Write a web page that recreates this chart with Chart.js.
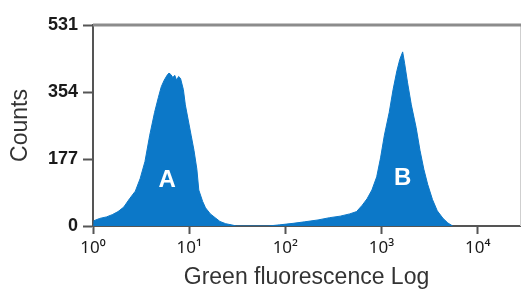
<!DOCTYPE html>
<html>
<head>
<meta charset="utf-8">
<script src="https://cdn.jsdelivr.net/npm/chart.js@4"></script>
<style>
  html,body{margin:0;padding:0;background:#fff;}
  #wrap{width:522px;height:291px;}
</style>
</head>
<body>
<div id="wrap"><canvas id="hist" width="522" height="291"></canvas></div>
<script>
// histogram: x = log10(green fluorescence), y = counts
const logFluor = [
  0.00, 0.01, 0.07, 0.14, 0.20, 0.26, 0.32, 0.38, 0.44, 0.49, 0.54, 0.59, 0.64,
  0.68, 0.71, 0.74, 0.77, 0.79, 0.81, 0.83, 0.85, 0.87, 0.89, 0.91, 0.94, 0.96,
  0.99, 1.02, 1.05, 1.08, 1.10, 1.14, 1.17, 1.22, 1.27, 1.32, 1.38, 1.44, 1.49,
  1.82, 1.94, 2.08, 2.20, 2.34, 2.46, 2.57, 2.67, 2.74, 2.80, 2.85, 2.90, 2.95,
  2.99, 3.03, 3.08, 3.12, 3.16, 3.19, 3.22, 3.24, 3.27, 3.31, 3.36, 3.40, 3.44,
  3.48, 3.53, 3.58, 3.64, 3.69, 3.74
];
const counts = [
  0, 14, 20, 24, 30, 38, 50, 72, 92, 125, 170, 240, 300,
  340, 368, 385, 398, 404, 400, 392, 398, 385, 395, 390, 360, 320,
  280, 240, 200, 150, 95, 65, 48, 32, 22, 12, 6, 3, 0,
  0, 3, 7, 11, 16, 22, 26, 32, 38, 55, 72, 95, 130,
  180, 240, 300, 360, 410, 440, 460, 430, 380, 320, 260, 200, 150,
  110, 70, 40, 20, 8, 0
];
const yTicks = [0, 177, 354, 531];
const xTicks = [0, 1, 2, 3, 4];
const xTickLabels = ['10⁰', '10¹', '10²', '10³', '10⁴'];
const peakNames = ['A', 'B'];
const peakAt = [[0.77, 121], [3.22, 126]];

const blue = '#0c78c8';
const axisGrey = '#555';
const sans = '"Liberation Sans", Arial, sans-serif';

const framePlugin = {
  id: 'frame',
  afterDatasetsDraw(chart){
    const {ctx, scales} = chart;
    ctx.save();
    ctx.fillStyle = '#fff';
    ctx.font = 'bold 24px ' + sans;
    ctx.textAlign = 'center';
    ctx.textBaseline = 'middle';
    peakNames.forEach((t,i)=>{
      ctx.fillText(t, scales.x.getPixelForValue(peakAt[i][0]), scales.y.getPixelForValue(peakAt[i][1]));
    });
    ctx.restore();
  },
  afterDraw(chart){
    const {ctx, chartArea:a} = chart;
    ctx.save();
    ctx.strokeStyle = '#cfcfcf';
    ctx.lineWidth = 1;
    ctx.beginPath(); ctx.moveTo(a.right+0.5, a.top); ctx.lineTo(a.right+0.5, a.bottom); ctx.stroke();
    ctx.strokeStyle = '#8c8c8c';
    ctx.lineWidth = 3;
    ctx.beginPath(); ctx.moveTo(a.left, a.top); ctx.lineTo(a.right+1, a.top); ctx.stroke();
    ctx.restore();
  }
};

new Chart(document.getElementById('hist'), {
  type: 'line',
  data: {
    datasets: [{
      label: 'Counts',
      data: logFluor.map((v,i)=>({x:v, y:counts[i]})),
      fill: 'origin',
      backgroundColor: blue,
      borderColor: blue,
      borderWidth: 1,
      pointRadius: 0,
      tension: 0
    }]
  },
  options: {
    responsive: false,
    animation: false,
    layout: { padding: { top: 25, right: 2, left: 0, bottom: 0 } },
    plugins: { legend: { display: false }, tooltip: { enabled: false } },
    scales: {
      x: {
        type: 'linear',
        min: 0, max: 4.44,
        afterBuildTicks: s => { s.ticks = xTicks.map(v=>({value:v})); },
        afterFit: s => { s.height = 65; },
        grid: { drawOnChartArea: false, tickLength: 8, color: axisGrey, tickWidth: 2 },
        border: { color: axisGrey, width: 2 },
        ticks: {
          padding: 4, color: '#1a1a1a', maxRotation: 0,
          font: { family: '"Noto Sans", "DejaVu Sans", sans-serif', size: 17 },
          callback: (v) => xTickLabels[xTicks.indexOf(v)]
        },
        title: {
          display: true, text: 'Green fluorescence Log', color: '#333',
          font: { family: sans, size: 23 },
          padding: { top: 0, bottom: 0 }
        }
      },
      y: {
        min: 0, max: 531,
        afterBuildTicks: s => { s.ticks = yTicks.map(v=>({value:v})); },
        afterFit: s => { s.width = 93; },
        grid: { drawOnChartArea: false, tickLength: 10, color: axisGrey, tickWidth: 2 },
        border: { color: axisGrey, width: 2 },
        ticks: {
          padding: 5, color: '#1a1a1a',
          font: { family: sans, size: 18, weight: 'bold' }
        },
        title: {
          display: true, text: 'Counts', color: '#333',
          font: { family: sans, size: 23 },
          padding: { top: 7, bottom: 0 }
        }
      }
    }
  },
  plugins: [framePlugin]
});
</script>
</body>
</html>
